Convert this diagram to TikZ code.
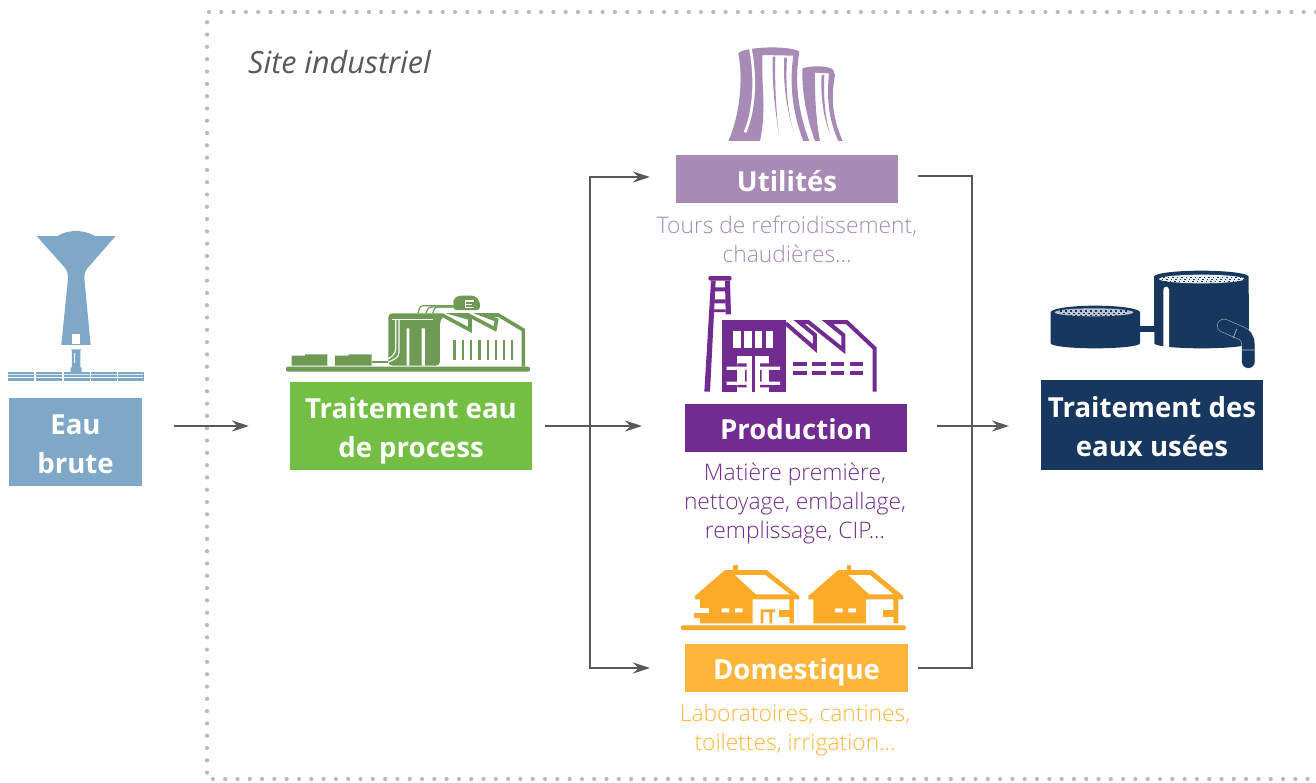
\documentclass[tikz,border=0pt]{standalone}
\usepackage{fontspec}
\setmainfont{Open Sans}
\newfontfamily\leger{Open Sans Light}
\usetikzlibrary{arrows.meta}
\definecolor{bleuclair}{HTML}{7FA7C8}
\definecolor{vertvif}{HTML}{72BF44}
\definecolor{vertsombre}{HTML}{6F9A54}
\definecolor{mauve}{HTML}{A78AB6}
\definecolor{violet}{HTML}{722B90}
\definecolor{orange}{HTML}{FDB53B}
\definecolor{orangefonce}{HTML}{FBAA2A}
\definecolor{marine}{HTML}{17375E}
\definecolor{gris}{HTML}{58595B}
\tikzset{
  boite/.style={inner sep=0pt, text=white, align=center, font=\fontsize{27.6}{39}\selectfont\bfseries},
  legende/.style={inner sep=0pt, align=center, font=\fontsize{22.8}{29}\selectfont\leger},
  fleche/.style={draw=gris, line width=1.6pt, -{Stealth[length=17pt,width=11pt]}},
  trait/.style={draw=gris, line width=1.6pt},
  pointille/.style={draw=black!27, line width=4.2pt, line cap=round, dash pattern=on 0pt off 12.3pt},
}
\begin{document}
\begin{tikzpicture}[x=1pt, y=-1pt]
    \useasboundingbox (0,0) rectangle (1316,782);

    \draw[pointille] (1316,12) -- (207,12) -- (207,779) -- (1316,779);
    \node[anchor=west, inner sep=0pt, text=gris, font=\fontsize{30.5}{36}\selectfont\itshape] (site) at (248,62) {Site industriel};

    \node[boite, fill=bleuclair, minimum width=133pt, minimum height=88pt] (eau) at (75.5,442) {\rule{0pt}{24pt}Eau\\brute};
    \node[boite, fill=vertvif, minimum width=242pt, minimum height=88pt] (process) at (411,426) {\rule{0pt}{30pt}Traitement eau\\de process};
    \node[boite, fill=mauve, minimum width=222pt, minimum height=48pt] (utilites) at (787,179) {\rule{0pt}{25pt}Utilités};
    \node[boite, fill=violet, minimum width=222pt, minimum height=48pt] (production) at (796,428) {\rule{0pt}{24pt}Production};
    \node[boite, fill=orange, minimum width=223pt, minimum height=48pt] (domestique) at (796.5,668) {\rule{0pt}{29pt}Domestique};
    \node[boite, fill=marine, minimum width=222pt, minimum height=90pt] (usees) at (1152,425) {\rule{0pt}{24pt}Traitement des\\eaux usées};

    \node[legende, text=mauve] (legutil) at (787,239) {Tours de refroidissement,\\chaudières...};
    \node[legende, text=violet] (legprod) at (795,503) {Matière première,\\nettoyage, emballage,\\remplissage, CIP...};
    \node[legende, text=orange] (legdom) at (795,730) {Laboratoires, cantines,\\toilettes, irrigation...};

    \coordinate (e1) at (174,426);
    \coordinate (e2) at (249,426);
    \coordinate (p1) at (545,426);
    \coordinate (p2) at (642,426);
    \coordinate (b) at (590,426);
    \coordinate (u1) at (650,177);
    \coordinate (d1) at (650,668);
    \coordinate (u2) at (918,176);
    \coordinate (d2) at (918,668);
    \coordinate (c) at (972,426);
    \coordinate (s1) at (937,426);
    \coordinate (s2) at (1009,426);

    \draw[fleche] (e1) -- (e2);
    \draw[fleche] (p1) -- (p2);
    \draw[fleche] (b) |- (u1);
    \draw[fleche] (b) |- (d1);
    \draw[trait] (u2) -| (c) |- (d2);
    \draw[fleche] (s1) -- (s2);

    % chateau d'eau
    \begin{scope}[shift={(0,220)}, x=0.3333pt, y=-0.3333pt]
      \fill[bleuclair] (110,48) -- (172,48) .. controls (205,28) and (250,28) .. (285,48) -- (347,48)
        -- (262,145) .. controls (255,155) and (252,165) .. (253,175) -- (272,375) -- (184,375)
        -- (204,175) .. controls (205,165) and (202,155) .. (196,145) -- cycle;
      \fill[white] (217,343) rectangle (239,372);
      \fill[bleuclair] (214,388) rectangle (243,392) (216,392) rectangle (241,442) (212,442) rectangle (245,458);
      \fill[white] (222,400) rectangle (226,428);
      \foreach \dx in {25,108,191,272,354}
        \fill[bleuclair] (\dx,457) rectangle ++(78,25);
      \fill[white] (25,470) rectangle (430,472);
      \fill[white!75!bleuclair] (25,462) rectangle (430,464);
    \end{scope}

    % usine verte
    \begin{scope}[shift={(280,285)}, x=0.3333pt, y=-0.3333pt]
      \fill[vertsombre, rounded corners=2pt] (18,245) rectangle (750,260);
      \fill[vertsombre] (35,212) rectangle (142,242) (75,208) rectangle (142,212);
      \fill[vertsombre] (165,212) rectangle (275,242) (205,208) rectangle (275,212);
      \fill[vertsombre] (275,228) rectangle (325,233);
      \fill[vertsombre, rounded corners=4pt] (325,242) -- (325,85) -- (500,85) -- (480,105) -- (480,242) -- cycle;
      \fill[white] (380,130) rectangle (388,242) (425,130) rectangle (435,242);
      \draw[white, line width=1.6pt] (335,104) -- (460,104);
      \draw[white, line width=1.2pt, rounded corners=4pt] (347,104) -- (347,205) -- (325,222);
      \draw[white, line width=1.2pt, rounded corners=4pt] (357,104) -- (357,215) -- (325,232);
      \draw[vertsombre, line width=3.6pt] (490,92) -- (570,135) -- (570,100) -- (535,90) -- (565,90) -- (645,132) -- (650,105) -- (610,90) -- (655,90) -- (730,135) -- (730,245);
      \foreach \dx in {520,545,570,595,620,645,668,692}
        \fill[vertsombre] (\dx,165) rectangle ++(7,60);
      \fill[vertsombre, rounded corners=3pt] (520,75) -- (520,42) -- (535,32) -- (585,32) -- (600,50) -- (600,75) -- cycle;
      \draw[white, line width=1.4pt] (582,48) -- (556,48) -- (556,68) -- (582,68) (556,58) -- (576,58);
      \draw[vertsombre, line width=1.2pt] (520,62) -- (440,62) .. controls (420,62) .. (414,85);
      \draw[vertsombre, line width=1.2pt] (520,66) -- (465,66) .. controls (445,66) .. (438,85);
      \draw[vertsombre, line width=1.2pt] (520,66) -- (485,66) .. controls (465,66) .. (458,85);
    \end{scope}

    % tours de refroidissement
    \begin{scope}[shift={(700,35)}, x=0.3333pt, y=-0.3333pt]
      \fill[mauve] (115,55) .. controls (130,35) and (270,30) .. (298,50) .. controls (285,130) and (290,220) .. (328,318)
        -- (310,318) .. controls (272,220) and (270,130) .. (280,62) -- (187,60)
        .. controls (186,110) and (188,150) .. (190,180) .. controls (192,240) and (188,280) .. (180,318)
        -- (85,318) .. controls (120,240) and (130,130) .. (115,55) -- cycle;
      \draw[white, line width=2.7pt] (150,36) .. controls (170,130) and (162,230) .. (135,292);
      \fill[mauve] (218,65) -- (226,65) .. controls (224,150) and (228,230) .. (237,298) .. controls (226,230) and (216,150) .. (218,65) -- cycle;
      \fill[mauve] (253,67) -- (261,68) .. controls (256,150) and (262,230) .. (282,293) .. controls (262,230) and (248,150) .. (253,67) -- cycle;
      \fill[mauve] (307,100) .. controls (330,92) and (385,90) .. (400,105) -- (405,120)
        .. controls (392,190) and (398,250) .. (428,318) -- (415,318) .. controls (385,250) and (380,190) .. (387,115) -- (345,113)
        .. controls (344,170) and (347,250) .. (360,318) -- (345,318) .. controls (320,250) and (305,170) .. (307,100) -- cycle;
      \fill[mauve] (365,120) -- (373,120) .. controls (370,190) and (376,250) .. (390,298) .. controls (372,250) and (361,190) .. (365,120) -- cycle;
    \end{scope}

    % usine violette
    \begin{scope}[shift={(695,270)}, x=0.3333pt, y=-0.3333pt]
      \fill[violet, rounded corners=2pt] (40,18) rectangle (110,32);
      \fill[violet] (48,32) -- (62,32) -- (45,365) -- (28,365) -- cycle;
      \fill[violet] (90,32) -- (105,32) -- (108,133) -- (92,133) -- cycle;
      \fill[violet] (60,52) rectangle (92,64) (58,88) rectangle (92,100) (56,118) rectangle (92,126);
      \fill[violet] (80,150) rectangle (272,365);
      \foreach \dx in {115,148,180,213}
        \fill[white] (\dx,183) rectangle ++(22,50);
      \fill[white] (127,258) rectangle (222,365);
      \fill[violet] (170,258) rectangle (180,365);
      \fill[white] (95,290) rectangle (150,300) (200,290) rectangle (255,300);
      \fill[white] (95,335) rectangle (150,345) (200,335) rectangle (255,345);
      \fill[violet] (127,280) rectangle (155,290) (195,280) rectangle (222,290);
      \fill[violet] (127,345) rectangle (155,352) (195,345) rectangle (222,352);
      \fill[violet] (150,300) rectangle (155,335) (195,300) rectangle (200,335);
      \draw[violet, line width=4pt, miter limit=10] (272,160) -- (360,236) -- (360,195) -- (312,156) -- (340,156) -- (445,240) -- (445,195) -- (397,156) -- (455,156) -- (539,235) -- (539,365);
      \foreach \dx in {295,352,408,465} {
        \fill[violet] (\dx,275) rectangle ++(40,13);
        \fill[violet] (\dx,302) rectangle ++(40,13);
      }
    \end{scope}

    % maisons
    \begin{scope}[shift={(670,560)}, x=0.3333pt, y=-0.3333pt]
      \fill[orangefonce, rounded corners=2pt] (32,196) rectangle (708,210);
      \fill[orangefonce] (190,15) rectangle (203,32);
      \fill[orangefonce] (75,108) -- (165,30) -- (290,30) -- (388,108) -- (388,118) -- (372,118) -- (372,190) -- (358,190) -- (358,118) -- (248,118) -- (248,190) -- (90,190) -- (90,118) -- (75,118) -- cycle;
      \fill[white] (195,45) -- (285,45) -- (360,103) -- (258,103) -- cycle;
      \fill[white] (155,145) rectangle (178,157) (195,145) rectangle (218,157);
      \fill[orangefonce] (530,15) rectangle (543,32);
      \fill[orangefonce] (415,108) -- (505,30) -- (605,30) -- (700,108) -- (700,118) -- (685,118) -- (685,190) -- (670,190) -- (670,118) -- (588,118) -- (588,190) -- (430,190) -- (430,118) -- (415,118) -- cycle;
      \fill[white] (535,45) -- (600,45) -- (670,103) -- (598,103) -- cycle;
      \fill[white] (495,145) rectangle (518,157) (535,145) rectangle (558,157);
      \fill[white] (90,143) rectangle (118,158);
      \fill[orangefonce] (72,158) rectangle (115,175);
      \fill[orangefonce] (327,150) rectangle (360,172);
      \fill[orangefonce] (272,148) rectangle (315,156) (272,148) rectangle (280,190) (298,148) rectangle (306,190);
      \fill[orangefonce] (640,150) rectangle (672,172);
    \end{scope}

    % bassins
    \begin{scope}[shift={(1040,265)}, x=0.3333pt, y=-0.3333pt]
      \fill[marine] (300,182) rectangle (345,200);
      \fill[marine] (32,142) arc[start angle=180, end angle=360, x radius=134, y radius=20] -- (300,235)
        arc[start angle=0, end angle=180, x radius=134, y radius=15] -- cycle;
      \fill[marine] (342,35) arc[start angle=180, end angle=360, x radius=142, y radius=18] -- (627,235)
        arc[start angle=0, end angle=180, x radius=142, y radius=15] -- cycle;
      \fill[white, rounded corners=3pt] (370,255) -- (370,65) -- (387,65) -- (387,255) -- cycle;
      \fill[white!70!marine] (162,142) ellipse[x radius=118, y radius=12];
      \fill[white!90!marine] (485,42) ellipse[x radius=128, y radius=13];
      \draw[marine, line width=1.6pt, dash pattern=on 2pt off 3pt] (60,138) -- (270,138) (70,146) -- (260,146) (90,152) -- (240,152);
      \draw[marine, line width=1pt, dash pattern=on 1.5pt off 3pt] (370,36) -- (600,36) (365,42) -- (610,42) (375,48) -- (595,48);
      \draw[white!70!marine, line width=13.6pt, line cap=round] (552,182) -- (605,205) .. controls (627,215) and (625,235) .. (625,258) -- (625,290);
      \draw[marine, line width=12.6pt, line cap=round] (552,182) -- (605,205) .. controls (627,215) and (625,235) .. (625,258) -- (625,290);
      \draw[white!70!marine, line width=0.6pt] (590,192) -- (580,218) (605,255) -- (645,255);
    \end{scope}
\end{tikzpicture}
\end{document}
